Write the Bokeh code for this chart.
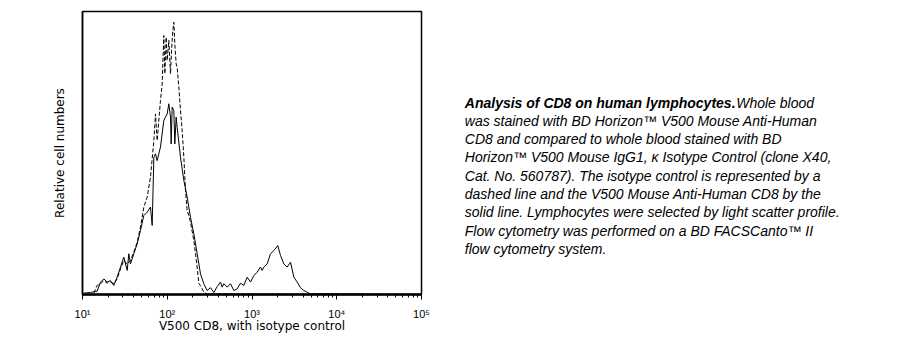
from bokeh.plotting import figure
from bokeh.layouts import row
from bokeh.models import Range1d, FixedTicker
from bokeh.core.properties import value
from bokeh.embed import file_html
from bokeh.resources import INLINE

# ---- data ----
cd8_x = [10.4, 12.4, 14.9, 16.3, 17.9, 19.5, 21.4, 23.4, 25.6, 28.1, 30.7, 33.7, 35.2, 36.8,
         40.3, 44.2, 48.3, 52.9, 58.0, 63.4, 66.4, 69.5, 72.7, 76.0, 83.2, 91.1, 95.3, 99.8,
         104.4, 109.2, 111.2, 114.3, 119.6, 122.8, 127.4, 130.9, 143.3, 157.0, 171.8, 188.0,
         205.9, 225.4, 246.7, 270.2, 295.8, 323.8, 354.6, 388.2, 425.0, 444.7, 465.3, 509.4,
         557.7, 610.6, 668.5, 731.8, 801.2, 877.1, 960.3, 1051, 1151, 1260, 1318, 1379, 1510,
         1653, 1810, 2014, 2169, 2375, 2600, 2847, 3117, 3412, 3736, 4090, 4478, 4903, 100000]
cd8_y = [0.5, 0.7, 1.2, 4.4, 5.5, 4.4, 4.9, 3.2, 6.1, 9.7, 13.2, 8.5, 14.4, 10.8,
         14.4, 17.9, 22.6, 27.9, 29.1, 30.9, 24.4, 48.5, 49.7, 47.3, 52.1, 61.5, 62.7, 63.8,
         67.4, 62.7, 53.2, 66.2, 65.0, 53.2, 62.7, 59.1, 48.5, 40.3, 34.4, 27.3,
         21.4, 14.4, 7.3, 3.8, 1.4, 2.4, 0.7, 2.8, 4.4, 2.6, 3.8, 2.6,
         3.8, 1.4, 2.0, 4.0, 3.2, 6.1, 4.4, 6.7, 7.9, 9.7, 8.5, 9.7, 10.8,
         14.4, 15.5, 17.3, 13.8, 10.8, 9.7, 11.4, 6.1, 4.4, 2.4, 1.4, 0.8, 0.2, 0.0]

iso_x = [13.6, 14.9, 16.3, 17.9, 19.5, 21.4, 23.4, 25.6, 28.1, 30.7, 33.7, 36.8, 40.3, 44.2,
         48.3, 52.9, 58.0, 63.4, 69.5, 72.7, 76.0, 83.2, 87.1, 91.1, 93.7, 97.1, 99.8, 104.4,
         109.2, 112.3, 116.4, 119.6, 122.8, 127.4, 130.9, 137.0, 143.3, 150.0, 157.0, 164.2,
         171.8, 179.8, 188.0, 205.9, 225.4, 236.0, 246.7, 258.2, 270.2, 295.8, 100000]
iso_y = [0.5, 3.2, 3.8, 4.9, 4.0, 4.4, 3.8, 5.5, 9.1, 12.0, 10.8, 12.0, 15.0, 18.5,
         23.8, 30.9, 34.4, 41.5, 54.4, 63.8, 54.4, 68.6, 74.4, 91.5, 78.0, 90.9, 82.7, 89.8,
         78.0, 86.2, 93.3, 96.2, 88.6, 81.5, 80.3, 73.3, 65.0, 57.9, 48.5, 36.7,
         29.7, 27.9, 25.6, 19.1, 9.7, 3.8, 3.2, 2.0, 0.8, 0.2, 0.0]

major_ticks = [10, 100, 1000, 10000, 100000]
tick_labels = ["10\u00b9", "10\u00b2", "10\u00b3", "10\u2074", "10\u2075"]
x_title = "V500 CD8, with isotype control"
y_title = "Relative cell numbers"

caption_lead = "Analysis of CD8 on human lymphocytes."
caption_lines = [
    "Whole blood",
    "was stained with BD Horizon\u2122 V500 Mouse Anti-Human",
    "CD8 and compared to whole blood stained with BD",
    "Horizon\u2122 V500 Mouse IgG1, \u03ba Isotype Control (clone X40,",
    "Cat. No. 560787). The isotype control is represented by a",
    "dashed line and the V500 Mouse Anti-Human CD8 by the",
    "solid line. Lymphocytes were selected by light scatter profile.",
    "Flow cytometry was performed on a BD FACSCanto\u2122 II",
    "flow cytometry system.",
]

FONT = "Liberation Sans"
AXFONT = "DejaVu Sans"

W1, H = 433, 340
TOP, BOTTOM = 11, 46
# ---- histogram figure ----
p = figure(width=W1, height=H, x_axis_type="log",
           x_range=Range1d(10, 100000), y_range=Range1d(0, 100),
           output_backend="svg", toolbar_location=None, title=None,
           min_border_left=82, min_border_top=TOP, min_border_right=12,
           min_border_bottom=BOTTOM)
p.background_fill_color = "white"
p.border_fill_color = "white"
p.grid.visible = False
p.outline_line_color = "black"
p.outline_line_width = 1.5
p.outline_line_alpha = 1.0

p.line(iso_x, iso_y, line_color="black", line_width=1, line_dash="4 2")
p.line(cd8_x, cd8_y, line_color="black", line_width=1)

minor = [m * 10 ** k for k in range(1, 5) for m in range(2, 10)]
p.xaxis.ticker = FixedTicker(ticks=major_ticks, minor_ticks=minor)
p.xaxis.major_label_overrides = {t: l for t, l in zip(major_ticks, tick_labels)}
p.xaxis.major_tick_out = 5
p.xaxis.major_tick_in = 0
p.xaxis.minor_tick_out = 3
p.xaxis.minor_tick_in = 0
p.xaxis.axis_line_width = 2.5
p.xaxis.major_label_text_font = FONT
p.xaxis.major_label_text_font_size = "11px"
p.xaxis.major_label_text_color = "black"
p.xaxis.major_label_standoff = 8
p.xaxis.axis_label = x_title
p.xaxis.axis_label_text_font = AXFONT
p.xaxis.axis_label_text_font_size = "12px"
p.xaxis.axis_label_text_font_style = "normal"
p.xaxis.axis_label_text_color = "black"
p.xaxis.axis_label_standoff = -4

p.yaxis.ticker = FixedTicker(ticks=[])
p.yaxis.major_tick_out = 0
p.yaxis.minor_tick_out = 0
p.yaxis.major_label_standoff = 0
p.yaxis.axis_line_width = 1.5
p.yaxis.axis_label = y_title
p.yaxis.axis_label_text_font = AXFONT
p.yaxis.axis_label_text_font_size = "12px"
p.yaxis.axis_label_text_font_style = "normal"
p.yaxis.axis_label_text_color = "black"
p.yaxis.axis_label_standoff = 16

# ---- caption figure (frame is aligned with the histogram frame by the row) ----
W2 = 905 - W1 - 16
t = figure(width=W2, height=H, x_range=Range1d(W1, W1 + W2), y_range=Range1d(H - BOTTOM, TOP),
           output_backend="svg", toolbar_location=None, title=None,
           x_axis_location=None, y_axis_location=None,
           min_border=0, min_border_left=0, min_border_right=0,
           min_border_top=TOP, min_border_bottom=BOTTOM)
t.grid.visible = False
t.outline_line_color = None
t.background_fill_color = "white"
t.border_fill_color = "white"

x0 = 464.3
lead_end = 735.7
y0 = 102.0
dy = 18.3
t.text(x=[x0], y=[y0], text=[caption_lead], text_font=value(FONT),
       text_font_style="bold italic", text_font_size="14px",
       text_baseline="alphabetic", text_color="black")
xs = [lead_end] + [x0] * (len(caption_lines) - 1)
ys = [y0 + i * dy for i in range(len(caption_lines))]
t.text(x=xs, y=ys, text=caption_lines, text_font=value(FONT),
       text_font_style="italic", text_font_size="14px",
       text_baseline="alphabetic", text_color="black")

layout = row(p, t)
open("out.html", "w").write(file_html(layout, INLINE))
